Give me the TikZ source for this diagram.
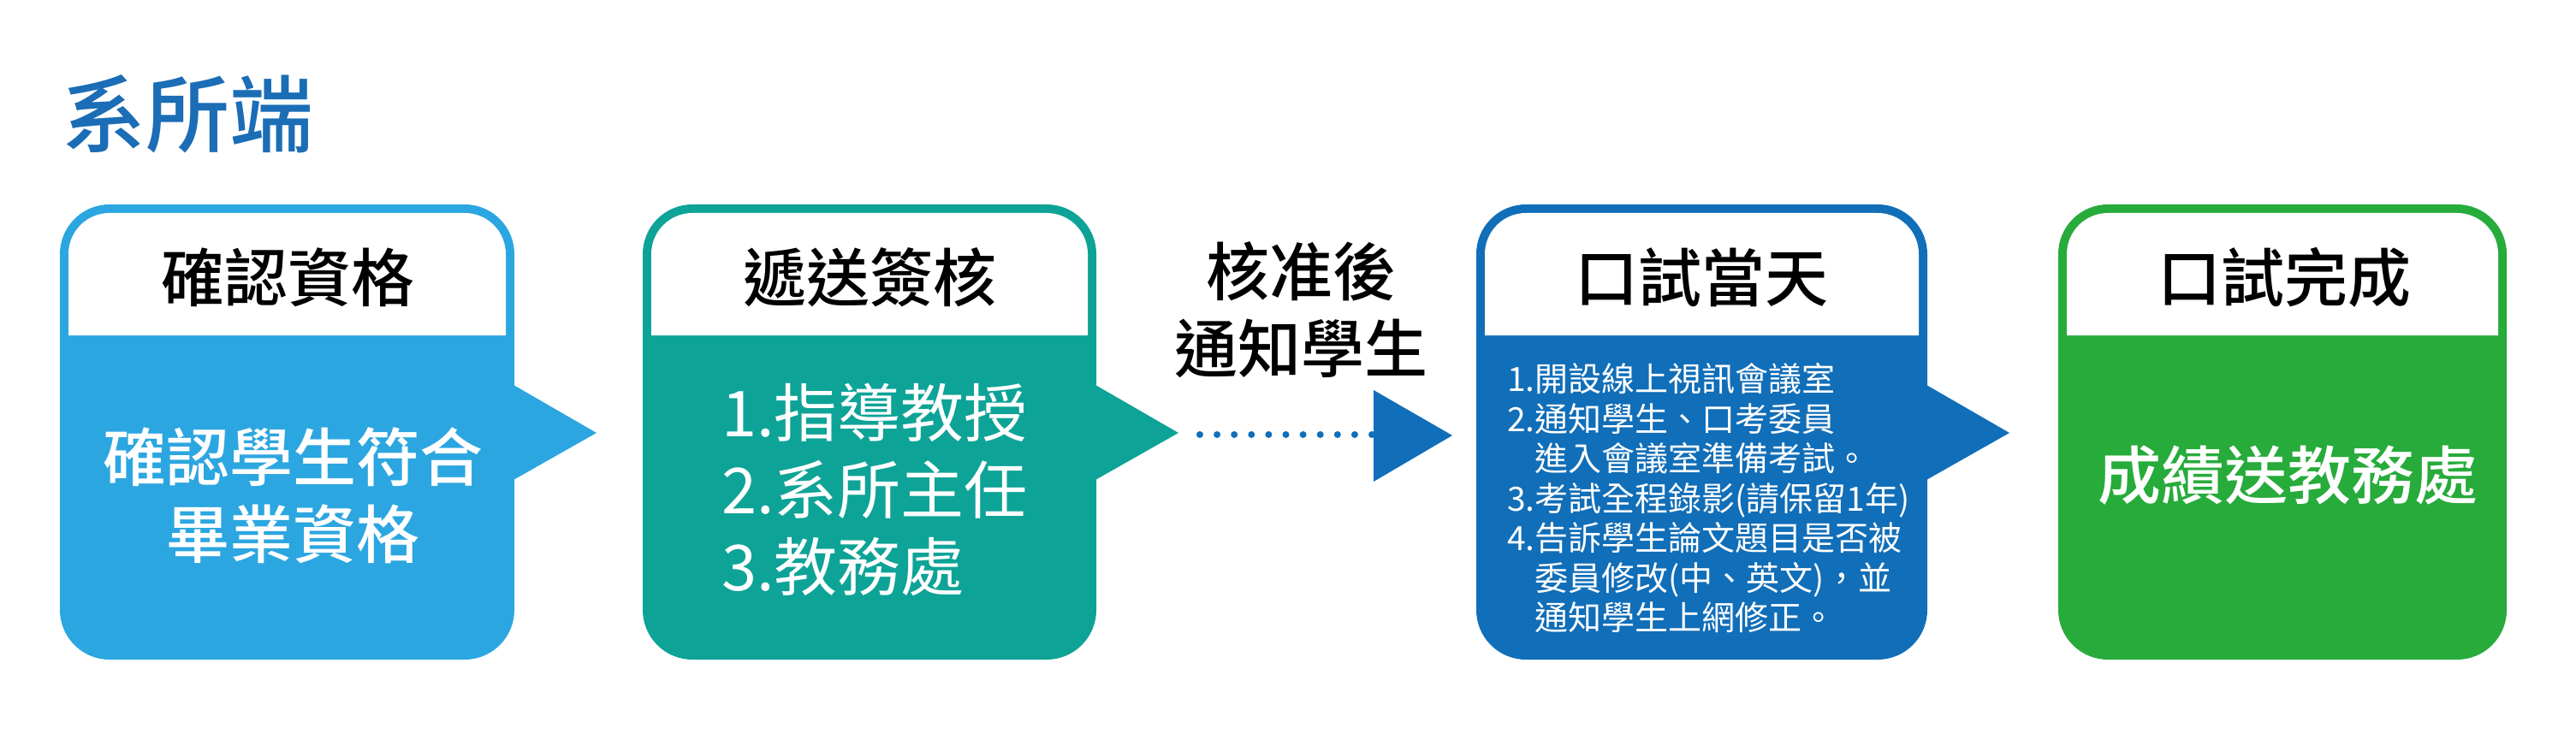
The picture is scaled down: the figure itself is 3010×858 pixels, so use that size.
\documentclass[tikz,border=0pt]{standalone}
\usepackage{fontspec}
\setmainfont{Noto Sans CJK TC}
\newfontfamily\medfont{Noto Sans CJK TC Medium}
\definecolor{cone}{HTML}{2CA6E0}
\definecolor{ctwo}{HTML}{0EA397}
\definecolor{cthree}{HTML}{116EB8}
\definecolor{cfour}{HTML}{27AB3B}
\definecolor{ctitle}{HTML}{1B6DB6}
\newcommand\stageshape[4]{%
  \fill[#3, rounded corners=58pt] (#1,239) rectangle (#2,771);
  \fill[white] ({#1+10},392) -- ({#1+10},297) arc[start angle=180,end angle=270,radius=48]
     -- ({#2-58},249) arc[start angle=270,end angle=360,radius=48] -- ({#2-10},392) -- cycle;
  \ifx#4y\fill[#3] ({#2-1},450) -- ({#2+96},506) -- ({#2-1},561) -- cycle;\fi
}
\begin{document}
\begin{tikzpicture}[x=1pt,y=-1pt,
  headtxt/.style={font=\fontsize{74pt}{90pt}\selectfont\medfont, text=black, inner sep=0pt},
  bodytxt/.style={font=\fontsize{74pt}{90pt}\selectfont\medfont, text=white, inner sep=0pt, align=center},
  smalltxt/.style={font=\fontsize{39pt}{46.5pt}\selectfont, text=white, inner sep=0pt, align=left}]
\useasboundingbox (0,0) rectangle (3010,858);

\node[font=\fontsize{98pt}{110pt}\selectfont\medfont, text=ctitle, anchor=west, inner sep=0pt] (title) at (72,133) {系所端};

\stageshape{70}{601}{cone}{y}
\stageshape{751}{1281}{ctwo}{y}
\stageshape{1725}{2252}{cthree}{y}
\stageshape{2405}{2929}{cfour}{n}

\node[headtxt] (h1) at (336,324) {確認資格};
\node[headtxt] (h2) at (1016,324) {遞送簽核};
\node[headtxt] (h3) at (1988,324) {口試當天};
\node[headtxt] (h4) at (2669,324) {口試完成};

\node[bodytxt] (b1) at (342,579) {確認學生符合\\畢業資格};
\node[bodytxt, font=\fontsize{74pt}{90pt}\selectfont, align=left, anchor=west] (b2) at (843,572) {1.指導教授\\2.系所主任\\3.教務處};
\node[smalltxt, anchor=west] (b3) at (1761,582.5) {1.開設線上視訊會議室\\2.通知學生、口考委員\\\phantom{2.}進入會議室準備考試。\\3.考試全程錄影(請保留1年)\\4.告訴學生論文題目是否被\\\phantom{4.}委員修改(中、英文)，並\\\phantom{4.}通知學生上網修正。};
\node[bodytxt] (b4) at (2673,556) {成績送教務處};

\node[headtxt, align=center] (mid) at (1520,362) {核准後\\通知學生};

\coordinate (d1) at (1402,508);
\coordinate (d2) at (1603,508);
\draw[cthree, line width=8pt, line cap=round, dash pattern=on 0pt off 20.1pt] (d1) -- (d2);
\fill[cthree] (1605,456) -- (1697,509) -- (1605,563) -- cycle;
\end{tikzpicture}
\end{document}
